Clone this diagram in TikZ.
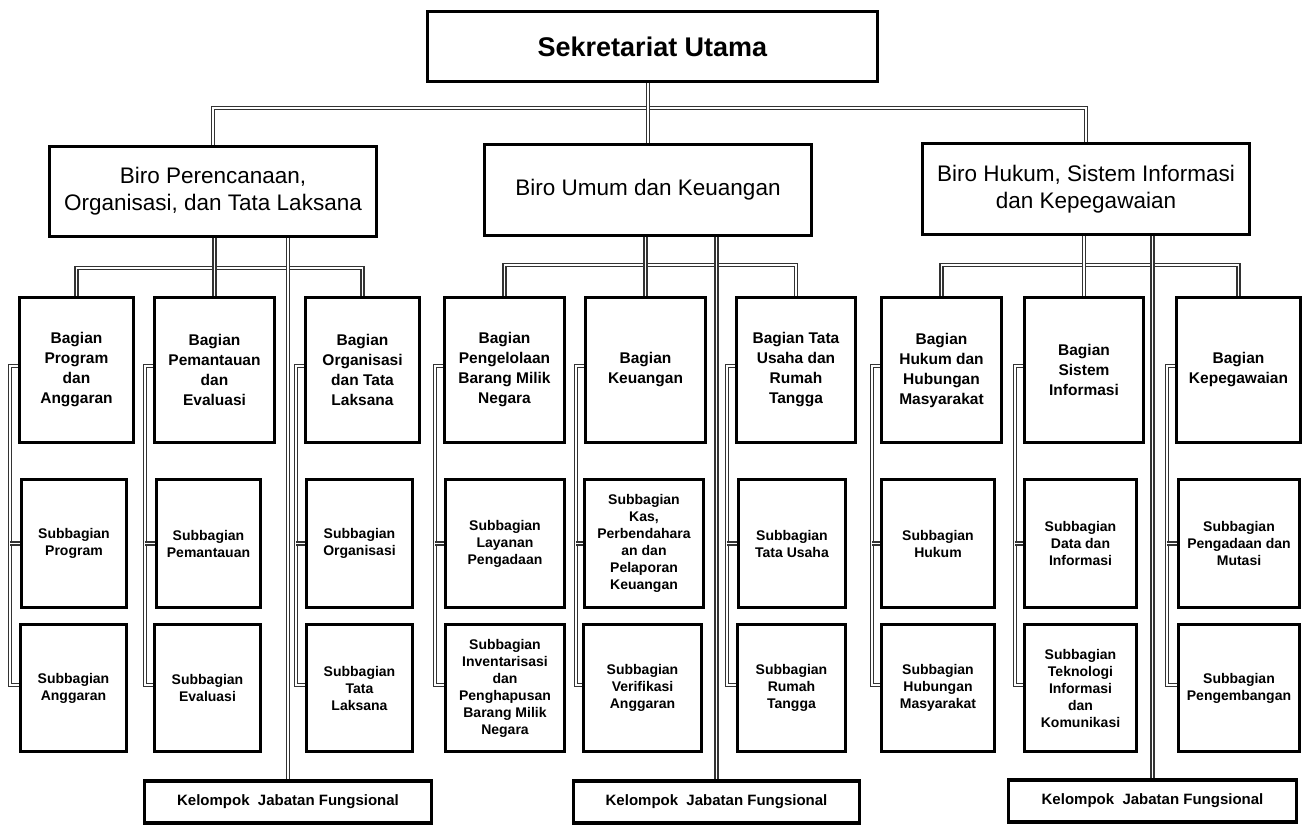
\documentclass[tikz,border=0pt]{standalone}
\usepackage{fontspec}
\setmainfont{Liberation Sans}
\usetikzlibrary{backgrounds,calc}
\tikzset{
 box/.style={draw=black, line width=3.4pt, fill=white, inner sep=2pt, align=center, text=black},
 topbox/.style={box, font=\bfseries\fontsize{27}{30}\selectfont},
 birobox/.style={box, font=\fontsize{22.5}{27}\selectfont},
 bagbox/.style={box, font=\bfseries\fontsize{15.5}{20}\selectfont},
 subbox/.style={box, font=\bfseries\fontsize{14}{17}\selectfont},
 kelbox/.style={box, font=\bfseries\fontsize{15}{17}\selectfont},
 dbl/.style={draw=black!80, line width=1.3pt, double=white, double distance=1.8pt},
}
\begin{document}
\begin{tikzpicture}[x=1pt,y=-1pt]
\useasboundingbox (0,0) rectangle (1306,828);
% top
\node[topbox, minimum width=450, minimum height=70] (top) at (652.5,46.5) {Sekretariat Utama};
% biro
\node[birobox, minimum width=327, minimum height=90] (biro1) at (213,191.5) {Biro Perencanaan,\\Organisasi, dan Tata Laksana};
\node[birobox, minimum width=327, minimum height=91] (biro2) at (648,190) {Biro Umum dan Keuangan};
\node[birobox, minimum width=327, minimum height=91] (biro3) at (1086,189) {Biro Hukum, Sistem Informasi\\dan Kepegawaian};
% bagian
\node[bagbox, minimum width=114, minimum height=145] (b1) at (76.5,370) {Bagian\\Program\\dan\\Anggaran};
\node[bagbox, minimum width=120, minimum height=145] (b2) at (214.5,370) {Bagian\\Pemantauan\\dan\\Evaluasi};
\node[bagbox, minimum width=114, minimum height=145] (b3) at (362.5,370) {Bagian\\Organisasi\\dan Tata\\Laksana};
\node[bagbox, minimum width=120, minimum height=145] (b4) at (504.5,370) {Bagian\\Pengelolaan\\Barang Milik\\Negara};
\node[bagbox, minimum width=120, minimum height=145] (b5) at (645.5,370) {Bagian\\Keuangan};
\node[bagbox, minimum width=119, minimum height=145] (b6) at (796,370) {Bagian Tata\\Usaha dan\\Rumah\\Tangga};
\node[bagbox, minimum width=120, minimum height=145] (b7) at (941.5,370) {Bagian\\Hukum dan\\Hubungan\\Masyarakat};
\node[bagbox, minimum width=119, minimum height=145] (b8) at (1084,370) {Bagian\\Sistem\\Informasi};
\node[bagbox, minimum width=124, minimum height=145] (b9) at (1238.5,370) {Bagian\\Kepegawaian};
% subbagian row 2
\node[subbox, minimum width=105, minimum height=128] (s1) at (74,543.5) {Subbagian\\Program};
\node[subbox, minimum width=104, minimum height=128] (s2) at (208.5,543.5) {Subbagian\\Pemantauan};
\node[subbox, minimum width=106, minimum height=128] (s3) at (359.5,543.5) {Subbagian\\Organisasi};
\node[subbox, minimum width=119, minimum height=128] (s4) at (505,543.5) {Subbagian\\Layanan\\Pengadaan};
\node[subbox, minimum width=119, minimum height=128] (s5) at (644,543.5) {Subbagian\\Kas,\\Perbendahara\\an dan\\Pelaporan\\Keuangan};
\node[subbox, minimum width=107, minimum height=128] (s6) at (792,543.5) {Subbagian\\Tata Usaha};
\node[subbox, minimum width=113, minimum height=128] (s7) at (938,543.5) {Subbagian\\Hukum};
\node[subbox, minimum width=112, minimum height=128] (s8) at (1080.5,543.5) {Subbagian\\Data dan\\Informasi};
\node[subbox, minimum width=121, minimum height=128] (s9) at (1239,543.5) {Subbagian\\Pengadaan dan\\Mutasi};
% subbagian row 3
\node[subbox, minimum width=106, minimum height=127] (t1) at (73.5,688) {Subbagian\\Anggaran};
\node[subbox, minimum width=106, minimum height=127] (t2) at (207.5,688) {Subbagian\\Evaluasi};
\node[subbox, minimum width=106, minimum height=127] (t3) at (359.5,688) {Subbagian\\Tata\\Laksana};
\node[subbox, minimum width=119, minimum height=127] (t4) at (505,688) {Subbagian\\Inventarisasi\\dan\\Penghapusan\\Barang Milik\\Negara};
\node[subbox, minimum width=118, minimum height=127] (t5) at (642.5,688) {Subbagian\\Verifikasi\\Anggaran};
\node[subbox, minimum width=108, minimum height=127] (t6) at (791.5,688) {Subbagian\\Rumah\\Tangga};
\node[subbox, minimum width=113, minimum height=127] (t7) at (938,688) {Subbagian\\Hubungan\\Masyarakat};
\node[subbox, minimum width=112, minimum height=127] (t8) at (1080.5,688) {Subbagian\\Teknologi\\Informasi\\dan\\Komunikasi};
\node[subbox, minimum width=121, minimum height=127] (t9) at (1239,688) {Subbagian\\Pengembangan};
% kelompok
\node[kelbox, minimum width=287, minimum height=42] (k1) at (288,802) {Kelompok\ \ Jabatan Fungsional};
\node[kelbox, minimum width=286, minimum height=42] (k2) at (716.5,802) {Kelompok\ \ Jabatan Fungsional};
\node[kelbox, minimum width=288, minimum height=42] (k3) at (1152.5,801) {Kelompok\ \ Jabatan Fungsional};
% connectors
\begin{pgfonlayer}{background}
\coordinate (mainbus) at (650,108);
\draw[dbl] (biro1.north) |- (mainbus) -| (biro3.north);
\draw[dbl] (biro2.north) -- (biro2.north |- top.south);
% biro 1
\coordinate (bus1) at (213,268);
\draw[dbl] (b1.north) |- (bus1) -| (b3.north);
\draw[dbl] (b2.north) -- (b2.north |- biro1.south);
\draw[dbl] (k1.north) -- (k1.north |- biro1.south);
% biro 2
\coordinate (bus2) at (648,265);
\draw[dbl] (b4.north) |- (bus2) -| (b6.north);
\draw[dbl] (b5.north) -- (b5.north |- biro2.south);
\draw[dbl] (k2.north) -- (k2.north |- biro2.south);
% biro 3
\coordinate (bus3) at (1086,265);
\draw[dbl] (b7.north) |- (bus3) -| (b9.north);
\draw[dbl] (b8.north) -- (b8.north |- biro3.south);
\draw[dbl] (k3.north) -- (k3.north |- biro3.south);
% brackets
\foreach \i in {1,...,9}{
  \coordinate (br\i) at ($(b\i.west)+(-8,-4)$);
  \draw[dbl] ($(b\i.west)+(0,-4)$) -- (br\i) |- ($(t\i.west)+(0,-3)$);
  \draw[dbl] (br\i |- s\i.west) -- (s\i.west);
}
\end{pgfonlayer}
\end{tikzpicture}
\end{document}
